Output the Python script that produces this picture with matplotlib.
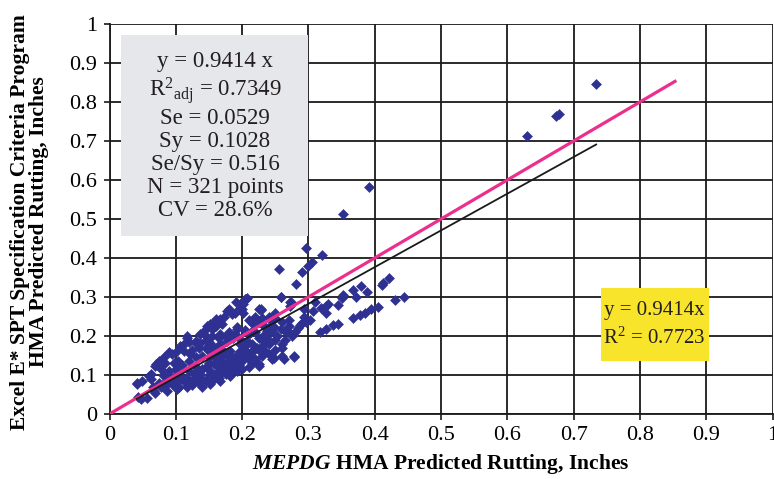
import matplotlib
matplotlib.use("Agg")
import matplotlib.pyplot as plt
from matplotlib.patches import Rectangle

plt.rcParams["font.family"] = ["Liberation Serif", "DejaVu Serif"]
plt.rcParams["mathtext.fontset"] = "custom"
plt.rcParams["mathtext.rm"] = "Liberation Serif"
plt.rcParams["mathtext.it"] = "Liberation Serif:italic:bold"
plt.rcParams["mathtext.bf"] = "Liberation Serif:bold"

# MEPDG predicted rutting (x) vs. Excel E* SPT program predicted rutting (y), inches
mepdg_rut = [
    0.734, 0.674, 0.678, 0.630,
    0.392, 0.352, 0.297, 0.320, 0.305, 0.299, 0.290, 0.282, 0.256,
    0.421, 0.412, 0.411, 0.379, 0.368, 0.388, 0.352, 0.351, 0.372, 0.444, 0.430,
    0.274, 0.310, 0.330, 0.326, 0.319, 0.344, 0.405, 0.395, 0.386, 0.378, 0.368,
    0.326, 0.307, 0.294, 0.293, 0.302, 0.297, 0.287, 0.291, 0.345, 0.337, 0.327, 0.318,
    0.258, 0.206, 0.202, 0.191, 0.229,
    0.202, 0.180, 0.197, 0.225, 0.202, 0.167, 0.155, 0.160, 0.170, 0.215, 0.225, 0.230,
    0.192, 0.142, 0.117, 0.167, 0.213, 0.132, 0.137, 0.152, 0.107, 0.089, 0.082, 0.112,
    0.122, 0.097, 0.104, 0.069, 0.077, 0.059, 0.049, 0.225, 0.182, 0.177, 0.197, 0.238, 0.230,
    0.057, 0.069, 0.087, 0.102, 0.117, 0.140, 0.152, 0.167, 0.182, 0.192, 0.094, 0.112,
    0.127, 0.137, 0.152, 0.167, 0.177, 0.187, 0.197, 0.213, 0.223, 0.235,
    0.273, 0.250, 0.228, 0.205, 0.177, 0.190, 0.162, 0.157, 0.240, 0.238, 0.248, 0.258,
    0.265, 0.270, 0.253, 0.192, 0.187, 0.208, 0.215, 0.197, 0.233, 0.208, 0.195, 0.197,
    0.180, 0.170, 0.157, 0.147, 0.137, 0.127, 0.117, 0.107, 0.097, 0.087, 0.077, 0.067,
    0.047, 0.042, 0.062, 0.074, 0.084, 0.094, 0.102, 0.117, 0.112, 0.130, 0.137, 0.142,
    0.152, 0.160,
    0.225, 0.245, 0.248, 0.260, 0.263, 0.279,
    0.259, 0.208, 0.200, 0.185, 0.273, 0.245, 0.217, 0.233, 0.270, 0.245, 0.210, 0.195,
    0.172, 0.147, 0.155, 0.177, 0.167, 0.160, 0.150, 0.220, 0.228, 0.278, 0.260, 0.275,
    0.195, 0.185, 0.175, 0.165, 0.155, 0.190, 0.180, 0.170, 0.205, 0.197,
    0.041, 0.043, 0.062, 0.070, 0.074,
    0.090, 0.100, 0.110, 0.120, 0.130, 0.140, 0.150, 0.160, 0.170, 0.180, 0.100, 0.110,
    0.120, 0.130, 0.140, 0.150, 0.160, 0.120, 0.130, 0.140, 0.150, 0.160, 0.170, 0.180,
    0.190, 0.200, 0.210, 0.205, 0.215, 0.085, 0.075, 0.065, 0.080, 0.090, 0.105, 0.125,
    0.135, 0.145, 0.155, 0.165, 0.175, 0.185, 0.195, 0.200, 0.210, 0.215, 0.220, 0.230,
    0.240, 0.250, 0.260, 0.250, 0.240, 0.265, 0.280, 0.285, 0.270, 0.260, 0.250, 0.240,
    0.230, 0.220, 0.210, 0.235, 0.225, 0.220, 0.205, 0.190, 0.180, 0.175, 0.165, 0.155,
    0.145, 0.135, 0.125, 0.120, 0.145, 0.155, 0.165, 0.170,
]
excel_spt_rut = [
    0.846, 0.765, 0.770, 0.714,
    0.581, 0.512, 0.425, 0.408, 0.390, 0.379, 0.364, 0.334, 0.372,
    0.348, 0.336, 0.332, 0.327, 0.318, 0.313, 0.304, 0.297, 0.299, 0.299, 0.292,
    0.286, 0.286, 0.282, 0.277, 0.272, 0.280, 0.274, 0.269, 0.259, 0.253, 0.246,
    0.259, 0.263, 0.268, 0.248, 0.242, 0.236, 0.229, 0.234, 0.231, 0.228, 0.217, 0.211,
    0.299, 0.296, 0.289, 0.287, 0.268,
    0.282, 0.269, 0.273, 0.269, 0.260, 0.243, 0.231, 0.226, 0.231, 0.235, 0.235, 0.231,
    0.222, 0.205, 0.201, 0.205, 0.209, 0.179, 0.183, 0.183, 0.175, 0.158, 0.145, 0.162,
    0.153, 0.132, 0.136, 0.123, 0.115, 0.098, 0.085, 0.128, 0.162, 0.153, 0.158, 0.196, 0.175,
    0.042, 0.055, 0.059, 0.063, 0.068, 0.068, 0.076, 0.085, 0.098, 0.111, 0.076, 0.085,
    0.089, 0.102, 0.111, 0.119, 0.128, 0.136, 0.145, 0.158, 0.170, 0.162,
    0.288, 0.260, 0.267, 0.295, 0.265, 0.260, 0.235, 0.222, 0.222, 0.213, 0.222, 0.218,
    0.213, 0.226, 0.200, 0.218, 0.196, 0.188, 0.179, 0.179, 0.188, 0.158, 0.153, 0.141,
    0.145, 0.136, 0.128, 0.123, 0.111, 0.102, 0.093, 0.089, 0.080, 0.076, 0.068, 0.059,
    0.038, 0.076, 0.102, 0.123, 0.132, 0.153, 0.162, 0.196, 0.179, 0.188, 0.205, 0.213,
    0.231, 0.243,
    0.123, 0.140, 0.144, 0.148, 0.140, 0.148,
    0.301, 0.297, 0.269, 0.256, 0.278, 0.239, 0.231, 0.226, 0.209, 0.213, 0.205, 0.196,
    0.248, 0.226, 0.218, 0.188, 0.179, 0.170, 0.162, 0.166, 0.158, 0.145, 0.170, 0.200,
    0.119, 0.111, 0.102, 0.093, 0.085, 0.145, 0.136, 0.128, 0.175, 0.162,
    0.080, 0.043, 0.091, 0.129, 0.136,
    0.090, 0.100, 0.095, 0.110, 0.120, 0.115, 0.130, 0.140, 0.150, 0.155, 0.115, 0.125,
    0.135, 0.145, 0.150, 0.145, 0.155, 0.080, 0.095, 0.090, 0.100, 0.105, 0.110, 0.120,
    0.130, 0.135, 0.140, 0.150, 0.145, 0.085, 0.080, 0.070, 0.100, 0.110, 0.070, 0.075,
    0.080, 0.085, 0.095, 0.100, 0.115, 0.125, 0.125, 0.115, 0.120, 0.130, 0.140, 0.150,
    0.155, 0.165, 0.180, 0.190, 0.180, 0.190, 0.210, 0.220, 0.240, 0.235, 0.245, 0.250,
    0.245, 0.250, 0.240, 0.205, 0.195, 0.210, 0.215, 0.205, 0.210, 0.200, 0.195, 0.200,
    0.190, 0.170, 0.165, 0.185, 0.170, 0.175, 0.170, 0.165,
]

# Regression trendline through the origin, and the line of equality
slope = 0.9414
equality_end = 0.855

stats_lines = [
    "y = 0.9414 x",
    r"R$^{2}$$_{\rm adj}$ = 0.7349",
    "Se = 0.0529",
    "Sy = 0.1028",
    "Se/Sy = 0.516",
    "N = 321 points",
    "CV = 28.6%",
]
trend_lines = ["y = 0.9414x", r"R$^{2}$ = 0.7723"]

ticks = [0, 0.1, 0.2, 0.3, 0.4, 0.5, 0.6, 0.7, 0.8, 0.9, 1]
tick_labels = ["0", "0.1", "0.2", "0.3", "0.4", "0.5", "0.6", "0.7", "0.8", "0.9", "1"]

fig = plt.figure(figsize=(7.74, 4.79), dpi=100)
ax = fig.add_axes([109.5 / 774, 65 / 479, 663 / 774, 390 / 479])
ax.set_xlim(0, 1)
ax.set_ylim(0, 1)
ax.set_xticks(ticks)
ax.set_yticks(ticks)
ax.set_xticklabels(tick_labels, fontsize=16)
ax.set_yticklabels(tick_labels, fontsize=16)
ax.tick_params(direction="out", length=4, width=1.2, color="#1a1a1a", pad=5)
ax.grid(True, color="#1a1a1a", linewidth=1.3)
ax.set_axisbelow(True)
for side in ("top", "right"):
    ax.spines[side].set_visible(False)
for side in ("left", "bottom"):
    ax.spines[side].set_color("#1a1a1a")
    ax.spines[side].set_linewidth(1.3)

# Statistics box
ax.add_patch(Rectangle((0.018, 0.457), 0.282, 0.515, facecolor="#e6e7ea",
                       edgecolor="none", zorder=2))
ax.text(0.159, 0.712, "\n".join(stats_lines), ha="center", va="center",
        fontsize=16.5, linespacing=1.13, color="#231f20", zorder=3)

# Data points
ax.plot(mepdg_rut, excel_spt_rut, linestyle="none", marker="D", markersize=5,
        color="#2e3192", markeredgewidth=0.4, zorder=4)

# Line of equality
ax.plot([0, equality_end], [0, equality_end], color="#ec2f8c", linewidth=2.3,
        zorder=5, solid_capstyle="butt")

# Trendline over the range of the data
x_lo, x_hi = min(mepdg_rut), max(mepdg_rut)
ax.plot([x_lo, x_hi], [slope * x_lo, slope * x_hi], color="#1a1a1a",
        linewidth=1.3, zorder=6)

# Trendline equation box
ax.add_patch(Rectangle((0.741, 0.136), 0.163, 0.186, facecolor="#f9e42c",
                       edgecolor="none", zorder=7))
ax.text(0.822, 0.229, "\n".join(trend_lines), ha="center", va="center",
        fontsize=15, linespacing=1.45, color="#231f20", zorder=8)

ax.set_xlabel(r"$MEPDG$ HMA Predicted Rutting, Inches",
              fontsize=15.5, fontweight="bold", labelpad=5)

fig.text(20 / 774, 1 - 222 / 479, "Excel E* SPT Specification Criteria Program",
         rotation=90, ha="center", va="center", fontsize=15.5, fontweight="bold")
fig.text(39 / 774, 1 - 222 / 479, "HMA Predicted Rutting, Inches",
         rotation=90, ha="center", va="center", fontsize=15.5, fontweight="bold")

fig.savefig("out.png", dpi=100)
